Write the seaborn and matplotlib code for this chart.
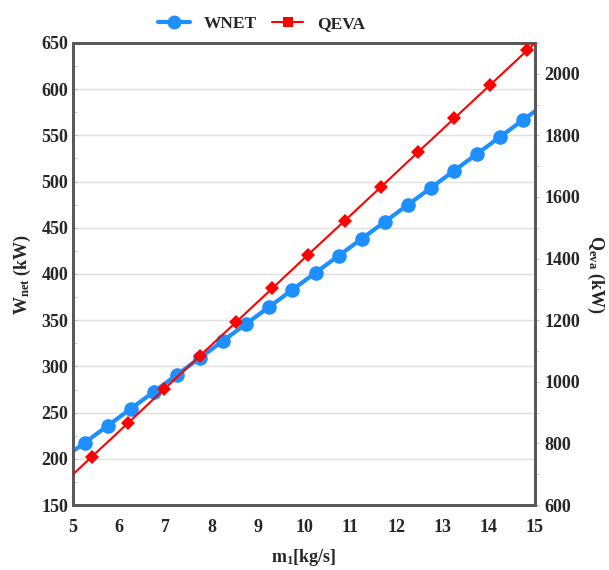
import matplotlib
matplotlib.use("Agg")
import matplotlib.pyplot as plt
import seaborn as sns
import pandas as pd
from matplotlib.ticker import MultipleLocator
from matplotlib.lines import Line2D

# ---- data ----
m1_wnet = [5.0, 5.25, 5.75, 6.25, 6.75, 7.25, 7.75, 8.25, 8.75, 9.25, 9.75,
           10.25, 10.75, 11.25, 11.75, 12.25, 12.75, 13.25, 13.75, 14.25, 14.75, 15.0]
wnet = [208.2, 217.4, 235.8, 254.2, 272.6, 291.0, 309.4, 327.8, 346.2, 364.6, 383.0,
        401.4, 419.8, 438.2, 456.6, 475.0, 493.4, 511.8, 530.2, 548.6, 567.0, 576.2]

m1_qeva = [5.0, 5.40, 6.19, 6.97, 7.75, 8.53, 9.31, 10.09, 10.88, 11.66, 12.47,
           13.25, 14.03, 14.83, 15.0]
qeva = [700, 756, 866, 976, 1085, 1194, 1303, 1413, 1523, 1632, 1746,
        1855, 1964, 2076, 2100]

x_ticks = [5, 6, 7, 8, 9, 10, 11, 12, 13, 14, 15]

df_w = pd.DataFrame({"m1": m1_wnet, "val": wnet})
df_q = pd.DataFrame({"m1": m1_qeva, "val": qeva})

sns.set_style("white")
plt.rcParams["font.family"] = ["Liberation Serif", "DejaVu Serif"]
plt.rcParams["font.weight"] = "bold"
plt.rcParams["mathtext.fontset"] = "custom"
plt.rcParams["mathtext.rm"] = "Liberation Serif:bold"
plt.rcParams["mathtext.it"] = "Liberation Serif:bold"
plt.rcParams["mathtext.bf"] = "Liberation Serif:bold"

fig = plt.figure(figsize=(6.09, 5.70), dpi=100)
ax = fig.add_axes([0.12, 0.114, 0.7585, 0.8106])
ax2 = ax.twinx()

blue = "#1E8FFF"
red = "#FF0000"
spine_c = "#595959"

sns.lineplot(data=df_w, x="m1", y="val", ax=ax, color=blue, linewidth=3.0,
             marker="o", markersize=10.5, markeredgewidth=0,
             markevery=list(range(1, len(m1_wnet) - 1)), zorder=3)
sns.lineplot(data=df_q, x="m1", y="val", ax=ax2, color=red, linewidth=1.5,
             marker="D", markersize=7.5, markeredgewidth=0,
             markevery=list(range(1, len(m1_qeva) - 1)), zorder=3)

ax.set_xlim(5, 15)
ax.set_ylim(150, 650)
ax2.set_ylim(600, 2100)
ax.set_xticks(x_ticks)
ax.yaxis.set_major_locator(MultipleLocator(50))
ax.yaxis.set_minor_locator(MultipleLocator(25))
ax2.yaxis.set_major_locator(MultipleLocator(200))
ax2.yaxis.set_minor_locator(MultipleLocator(100))

ax.grid(axis="y", which="major", color="#e0e0e0", linewidth=1.0)
ax.set_axisbelow(True)

ax.tick_params(axis="x", direction="out", length=4, color="#bfbfbf",
               labelsize=13, pad=6)
ax.tick_params(axis="y", which="both", direction="in", length=3, color="#bfbfbf",
               labelsize=13)
ax2.tick_params(axis="y", which="both", direction="out", length=3, color="#bfbfbf",
                labelsize=13)
for a in (ax, ax2):
    for lab in a.get_xticklabels() + a.get_yticklabels():
        lab.set_fontweight("bold")
    for s in a.spines.values():
        s.set_color(spine_c)
        s.set_linewidth(2.0)

ax.set_xlabel(r"m$_{\mathregular{1}}$[kg/s]", fontsize=13, fontweight="bold", labelpad=8)
ax.set_ylabel(r"W$_{\mathregular{net}}$ (kW)", fontsize=13, fontweight="bold", labelpad=6)
ax2.set_ylabel(r"Q$_{\mathregular{eva}}$ (kW)", fontsize=13, fontweight="bold",
               rotation=270, va="bottom", labelpad=4)

handles = [Line2D([], [], color=blue, linewidth=3.0, marker="o", markersize=10,
                  markeredgewidth=0),
           Line2D([], [], color=red, linewidth=1.5, marker="s", markersize=7,
                  markeredgewidth=0)]
fig.legend(handles, ["WNET", "QEVA"], loc="upper center", bbox_to_anchor=(0.43, 1.0),
           ncol=2, frameon=False, prop={"weight": "bold", "size": 12.5},
           handlelength=1.8, handletextpad=0.8, columnspacing=0.9)

fig.savefig("out.png", dpi=100)
